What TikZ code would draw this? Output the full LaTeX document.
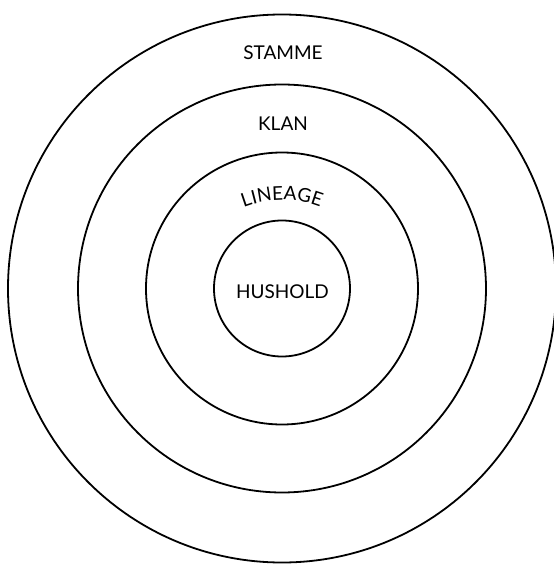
\documentclass[tikz,border=0pt]{standalone}
\usepackage{fontspec}
\setmainfont{Lato}
\usetikzlibrary{decorations.text}

\begin{document}
\begin{tikzpicture}[
    x=1pt, y=1pt,
    ring/.style={draw, line width=1.8pt},
    label/.style={font=\fontsize{19}{19}\selectfont, inner sep=0pt}
]
    \useasboundingbox (-282,-276.5) rectangle (272,288.5);

    % the four rings, inner to outer
    \foreach \r in {68,136,204,274}
        \draw[ring] (0,0) circle[radius=\r];

    \node[label] (stamme) at (1,236) {STAMME};
    \node[label] (klan) at (1,165) {KLAN};
    \node[label] (hushold) at (0.5,-3.5) {HUSHOLD};

    % lineage follows the ring a little
    \path[decorate, decoration={text along path, text align=center,
        text={|\fontsize{19}{19}\selectfont|LINEAGE}}]
        ([shift={(0,-16)}]150:104.5) arc[start angle=150, end angle=30, radius=104.5];
\end{tikzpicture}
\end{document}
